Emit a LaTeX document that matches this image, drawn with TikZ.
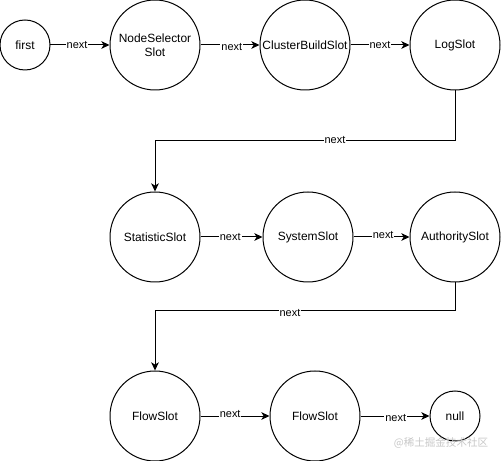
\documentclass[tikz,border=0pt]{standalone}
\usepackage{fontspec}
\setmainfont{Liberation Sans}
\newfontfamily\cjkfont{Noto Sans CJK SC}
\usetikzlibrary{arrows.meta}

\begin{document}
\begin{tikzpicture}[
  x=0.03cm, y=-0.03cm,
  every node/.style={font=\fontsize{10.2pt}{12pt}\selectfont},
  slot/.style={draw, circle, line width=0.85pt, minimum size=2.7cm, inner sep=0pt, align=center},
  endslot/.style={slot, minimum size=1.5cm},
  link/.style={draw, line width=0.85pt, -{Stealth[length=7pt, width=6.5pt, inset=2pt]}},
  lbl/.style={fill=white, inner sep=0.8pt, font=\fontsize{9.35pt}{11pt}\selectfont},
]
\useasboundingbox (0,0) rectangle (501,461);

% Row 1
\node[endslot] (first) at (25,45) {first};
\node[slot] (nsel) at (155,45) {NodeSelector\\Slot};
\node[slot] (cbuild) at (305,45) {ClusterBuildSlot};
\node[slot] (logs) at (455,45) {LogSlot};

% Row 2
\node[slot] (stat) at (155,237) {StatisticSlot};
\node[slot] (sys) at (308,237) {SystemSlot};
\node[slot] (auth) at (455,237) {AuthoritySlot};

% Row 3
\node[slot] (flowa) at (155,416) {FlowSlot};
\node[slot] (flowb) at (315,416) {FlowSlot};
\node[endslot] (null) at (455,416) {null};

% links
\draw[link] (first) -- node[lbl, pos=0.45] {next} (nsel);
\draw[link] (nsel) -- node[lbl, pos=0.53, yshift=-2pt] {next} (cbuild);
\draw[link] (cbuild) -- node[lbl, pos=0.5] {next} (logs);
\draw[link] (logs.south) -- ++(0,50) -| node[lbl, pos=0.2] {next} (stat.north);
\draw[link] (stat) -- node[lbl, pos=0.48] {next} (sys);
\draw[link] (sys) -- node[lbl, pos=0.53, yshift=2pt] {next} (auth);
\draw[link] (auth.south) -- ++(0,28) -| node[lbl, pos=0.275, yshift=-2pt] {next} (flowa.north);
\draw[link] (flowa) -- node[lbl, pos=0.43, yshift=2pt] {next} (flowb);
\draw[link] (flowb) -- node[lbl, pos=0.51, yshift=-2pt] {next} (null);

% watermark
\node[font=\cjkfont\fontsize{9pt}{10pt}\selectfont, text=black!22] (mark) at (441,443) {@稀土掘金技术社区};
\end{tikzpicture}
\end{document}
